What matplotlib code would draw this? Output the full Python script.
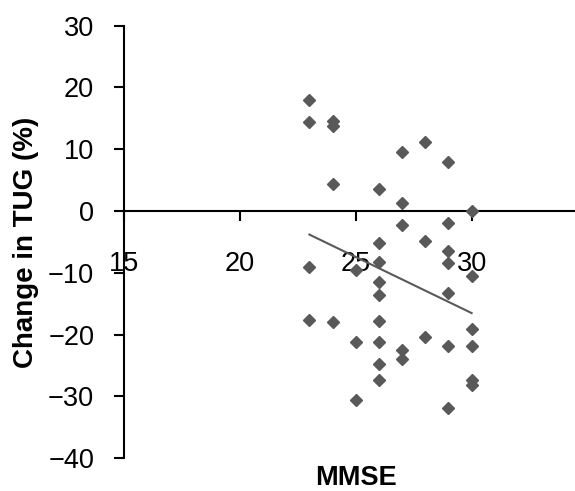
import matplotlib.pyplot as plt

plt.rcParams['font.family'] = ['Liberation Sans', 'DejaVu Sans']

# MMSE score vs change in TUG (%)
mmse = [23, 23, 23, 23,
        24, 24, 24, 24,
        25, 25, 25,
        26, 26, 26, 26, 26, 26, 26, 26, 26,
        27, 27, 27, 27, 27,
        28, 28, 28,
        29, 29, 29, 29, 29, 29, 29,
        30, 30, 30, 30, 30, 30]
tug_change = [18.0, 14.4, -9.0, -17.6,
              14.6, 13.7, 4.4, -17.9,
              -9.6, -21.2, -30.6,
              3.5, -5.2, -8.2, -11.5, -13.6, -17.8, -21.2, -24.8, -27.4,
              9.5, 1.3, -2.3, -22.5, -23.9,
              11.2, -4.8, -20.4,
              7.9, -2.0, -6.5, -8.4, -13.3, -21.9, -31.8,
              0.0, -10.5, -19.0, -21.9, -27.4, -28.2]

# linear trend line (ends)
trend_x = [23, 30]
trend_y = [-3.8, -16.5]

x_ticks = [15, 20, 25, 30]
y_ticks = [-40, -30, -20, -10, 0, 10, 20, 30]

fig = plt.figure(figsize=(5.75, 4.91), dpi=100)
ax = fig.add_axes([0.2157, 0.0666, 0.806, 0.8811])

grey = '#595959'
ax.plot(mmse, tug_change, linestyle='none', marker='D', markersize=6.5,
        color=grey, clip_on=False, zorder=3)
ax.plot(trend_x, trend_y, color=grey, linewidth=1.5, zorder=2)

ax.set_xlim(15, 35)
ax.set_ylim(-40, 30)
ax.set_xticks(x_ticks)
ax.set_yticks(y_ticks)

ax.spines['top'].set_visible(False)
ax.spines['right'].set_visible(False)
ax.spines['bottom'].set_position(('data', 0))
ax.spines['left'].set_linewidth(1.5)
ax.spines['bottom'].set_linewidth(1.5)

ax.tick_params(axis='both', direction='out', length=7.5, width=1.5,
               labelsize=19.5)
ax.tick_params(axis='y', pad=14)
ax.tick_params(axis='x', pad=21)

ax.set_xlabel('MMSE', fontsize=19.5, fontweight='bold')
ax.set_ylabel('Change in TUG (%)', fontsize=20, fontweight='bold')
ax.xaxis.set_label_coords(0.5, -0.015)
ax.yaxis.set_label_coords(-0.183, 0.5)

fig.savefig('out.png', dpi=100)
